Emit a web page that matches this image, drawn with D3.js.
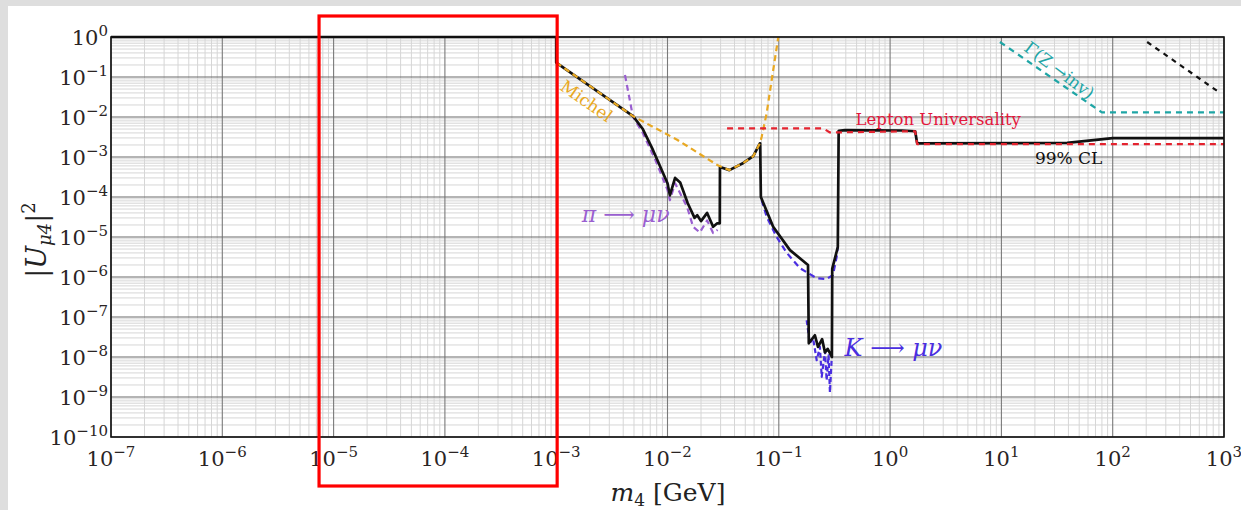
<!DOCTYPE html>
<html>
<head>
<meta charset="utf-8">
<script src="https://cdn.jsdelivr.net/npm/d3@7"></script>
<style>
  body { margin: 0; background: #dcdcdc; }
  text { font-family: "DejaVu Serif", "Liberation Serif", serif; }
</style>
</head>
<body>
<div class="container"></div>
<script>
// x = m4 [GeV], y = |U_mu4|^2
var xDecades = [-7, -6, -5, -4, -3, -2, -1, 0, 1, 2, 3];
var yDecades = [0, -1, -2, -3, -4, -5, -6, -7, -8, -9, -10];

// 99% CL combined limit (black solid)
var limitM = [1e-7, 1e-3, 1.0e-3, 4.9e-3, 6.0e-3, 7.4e-3, 1.0e-2, 1.05e-2, 1.17e-2, 1.3e-2, 1.52e-2, 1.75e-2, 1.85e-2, 2.0e-2, 2.27e-2, 2.57e-2, 2.8e-2, 2.95e-2, 2.96e-2, 3.6e-2, 4.8e-2, 5.9e-2, 6.76e-2, 6.8e-2, 6.9e-2, 8.9e-2, 0.126, 0.183, 0.186, 0.211, 0.225, 0.245, 0.26, 0.275, 0.30, 0.302, 0.339, 0.345, 0.394, 1.28, 1.68, 1.75, 39, 100, 1000];
var limitU = [1, 1, 0.23, 1.05e-2, 5e-3, 1.5e-3, 2.2e-4, 1.1e-4, 3e-4, 2.3e-4, 7e-5, 3e-5, 3.5e-5, 2.5e-5, 4e-5, 1.8e-5, 2.2e-5, 2.2e-5, 5.6e-4, 4.7e-4, 7.1e-4, 1.05e-3, 2.2e-3, 2.2e-3, 1.0e-4, 1.8e-5, 4.7e-6, 2e-6, 2.2e-8, 3.5e-8, 1.8e-8, 2.8e-8, 1.3e-8, 1.6e-8, 1e-8, 1.6e-6, 5.6e-6, 4.5e-3, 4.7e-3, 4.6e-3, 4.4e-3, 2.2e-3, 2.25e-3, 2.95e-3, 2.95e-3];

// Michel decay (orange dashed)
var michelM = [1.0e-3, 4.9e-3, 1.22e-2, 2.8e-2, 3.6e-2, 4.8e-2, 5.9e-2, 6.76e-2, 7.02e-2, 7.78e-2, 8.63e-2, 9.9e-2];
var michelU = [0.23, 1.05e-2, 2.7e-3, 6.3e-4, 4.7e-4, 7.1e-4, 1.05e-3, 2.2e-3, 3.2e-3, 1.24e-2, 8.4e-2, 1];

// pi -> mu nu (purple dashed)
var piM = [4.15e-3, 4.9e-3, 6.0e-3, 7.8e-3, 1.0e-2, 1.05e-2, 1.17e-2, 1.5e-2, 1.7e-2, 1.95e-2, 2.27e-2, 2.57e-2, 2.82e-2];
var piU = [0.112, 1e-2, 4e-3, 8.3e-4, 1.5e-4, 8.3e-5, 2.2e-4, 5.6e-5, 1.8e-5, 1.3e-5, 2.6e-5, 1.26e-5, 1.5e-5];

// K -> mu nu (blue dashed), smooth part and resonant spikes
var kM = [0.0701, 0.0778, 0.0957, 0.118, 0.155, 0.219, 0.269, 0.307, 0.331, 0.339];
var kU = [8.3e-5, 3.2e-5, 1.0e-5, 4e-6, 1.66e-6, 9.3e-7, 8.9e-7, 1.12e-6, 3.2e-6, 5.6e-6];
var kSpikeM = [0.178, 0.19, 0.203, 0.219, 0.234, 0.243, 0.26, 0.269, 0.28, 0.288, 0.298];
var kSpikeU = [8.3e-8, 2.2e-8, 3e-8, 8.3e-9, 1.8e-8, 3.2e-9, 1.4e-8, 2.6e-9, 1.1e-8, 1.3e-9, 8e-9];

// lepton universality (red dashed)
var lepM = [3.43e-2, 0.25, 0.288, 1.68, 1.75, 1000];
var lepU = [5.2e-3, 5.2e-3, 4.1e-3, 4.4e-3, 2.1e-3, 2.1e-3];

// Gamma(Z -> inv) (teal dashed) and black dashed line
var zinvM = [9.7, 80, 1000];
var zinvU = [0.75, 1.3e-2, 1.3e-2];
var topM = [204, 920];
var topU = [0.75, 0.04];

// highlighted mass window (red box)
var boxM = [7.4e-6, 1.02e-3];

function zip(a, b) { return a.map(function(d, i) { return [d, b[i]]; }); }

var W = 1241, H = 510;
var pLeft = 111, pRight = 1224, pTop = 37, pBottom = 437;

var x = d3.scaleLog().domain([1e-7, 1e3]).range([pLeft, pRight]);
var y = d3.scaleLog().domain([1e-10, 1]).range([pBottom, pTop]);

var line = d3.line()
    .x(function(d) { return x(d[0]); })
    .y(function(d) { return y(d[1]); });

var svg = d3.select(".container")
    .append("svg")
    .attr("width", W)
    .attr("height", H)
    .style("display", "block");

// paper
svg.append("rect").attr("width", W).attr("height", H).attr("fill", "#dedede");
svg.append("rect").attr("x", 8).attr("y", 6).attr("width", W - 8).attr("height", H - 6).attr("fill", "#fff");

// minor grid
var xMinor = [], yMinor = [];
xDecades.slice(0, -1).forEach(function(e) {
  for (var k = 2; k < 10; k++) xMinor.push(k * Math.pow(10, e));
});
yDecades.slice(0, -1).forEach(function(e) {
  for (var k = 2; k < 10; k++) yMinor.push(k * Math.pow(10, e - 1));
});

svg.append("g").selectAll("line").data(xMinor).enter().append("line")
    .attr("x1", x).attr("x2", x).attr("y1", pTop).attr("y2", pBottom)
    .attr("stroke", "#d6d6d6").attr("stroke-width", 1);
svg.append("g").selectAll("line").data(yMinor).enter().append("line")
    .attr("y1", y).attr("y2", y).attr("x1", pLeft).attr("x2", pRight)
    .attr("stroke", "#d6d6d6").attr("stroke-width", 1);

// major grid
svg.append("g").selectAll("line").data(xDecades).enter().append("line")
    .attr("x1", function(d) { return x(Math.pow(10, d)); })
    .attr("x2", function(d) { return x(Math.pow(10, d)); })
    .attr("y1", pTop).attr("y2", pBottom)
    .attr("stroke", "#7a7a7a").attr("stroke-width", 1.1);
svg.append("g").selectAll("line").data(yDecades).enter().append("line")
    .attr("y1", function(d) { return y(Math.pow(10, d)); })
    .attr("y2", function(d) { return y(Math.pow(10, d)); })
    .attr("x1", pLeft).attr("x2", pRight)
    .attr("stroke", "#6a6a6a").attr("stroke-width", 1.1);

// curves
function curve(data, color, width, dash) {
  svg.append("path")
      .datum(data)
      .attr("d", line)
      .attr("fill", "none")
      .attr("stroke", color)
      .attr("stroke-width", width)
      .attr("stroke-dasharray", dash || null)
      .attr("stroke-linejoin", "round");
}

curve(zip(piM, piU), "#9a5fd0", 2.2, "6,4");
curve(zip(kM, kU), "#4a2ee0", 2.2, "6,4");
curve(zip(kSpikeM, kSpikeU), "#4a2ee0", 2.2, "5,3");
curve(zip(limitM, limitU), "#111", 2.7);
curve(zip(michelM, michelU), "#e8a822", 2.2, "6,4");
curve(zip(lepM, lepU), "#e4232f", 2.2, "6,5");
curve(zip(zinvM, zinvU), "#1ea5a5", 2.2, "6,5");
curve(zip(topM, topU), "#111", 2.2, "5,5");

// frame
svg.append("rect")
    .attr("x", pLeft).attr("y", pTop)
    .attr("width", pRight - pLeft).attr("height", pBottom - pTop)
    .attr("fill", "none").attr("stroke", "#111").attr("stroke-width", 1.6);

// tick labels
function power(sel, e) {
  sel.append("tspan").text("10");
  sel.append("tspan").attr("dy", -9).attr("font-size", 15)
      .text(e < 0 ? "\u2212" + (-e) : e);
}

svg.append("g").selectAll("text").data(xDecades).enter().append("text")
    .attr("x", function(d) { return x(Math.pow(10, d)); })
    .attr("y", 466)
    .attr("text-anchor", "middle")
    .attr("font-size", 21)
    .attr("fill", "#2a2424")
    .each(function(d) { power(d3.select(this), d); });

svg.append("g").selectAll("text").data(yDecades).enter().append("text")
    .attr("x", pLeft - 3)
    .attr("y", function(d) { return y(Math.pow(10, d)) + 8; })
    .attr("text-anchor", "end")
    .attr("font-size", 21)
    .attr("fill", "#2a2424")
    .each(function(d) { power(d3.select(this), d); });

// axis titles
var xt = svg.append("text").attr("x", 668).attr("y", 501).attr("text-anchor", "middle")
    .attr("font-size", 25).attr("fill", "#222");
xt.append("tspan").attr("font-style", "italic").text("m");
xt.append("tspan").attr("font-size", 17).attr("dy", 5).text("4");
xt.append("tspan").attr("dy", -5).text(" [GeV]");

var yt = svg.append("text").attr("transform", "translate(46,240) rotate(-90)")
    .attr("text-anchor", "middle").attr("font-size", 27).attr("fill", "#222");
yt.append("tspan").text("|");
yt.append("tspan").attr("font-style", "italic").text("U");
yt.append("tspan").attr("font-size", 18).attr("dy", 5).attr("font-style", "italic").text("\u03bc4");
yt.append("tspan").attr("dy", -5).text("|");
yt.append("tspan").attr("font-size", 18).attr("dy", -11).text("2");

// curve labels
svg.append("text")
    .attr("transform", "translate(" + x(1.06e-3) + "," + y(0.05) + ") rotate(35)")
    .attr("font-size", 17).attr("fill", "#e8a822").text("Michel");

svg.append("text").attr("x", x(1.7e-3)).attr("y", 222)
    .attr("font-size", 22).attr("font-style", "italic").attr("fill", "#9a5fd0")
    .text("\u03c0 \u27f6 \u03bc\u03bd");

svg.append("text").attr("x", x(0.39)).attr("y", 356)
    .attr("font-size", 24).attr("font-style", "italic").attr("fill", "#4a2ee0")
    .text("K \u27f6 \u03bc\u03bd");

svg.append("text").attr("x", x(0.49)).attr("y", 125)
    .attr("font-size", 16.5).attr("fill", "#e4173c").text("Lepton Universality");

svg.append("text").attr("x", x(20)).attr("y", 164)
    .attr("font-size", 17).attr("fill", "#111").text("99% CL");

svg.append("text")
    .attr("transform", "translate(" + x(15.6) + "," + y(0.47) + ") rotate(37)")
    .attr("font-size", 17).attr("fill", "#1ea5a5").text("\u0393(Z \u2192inv)");

// highlight box
svg.append("rect")
    .attr("x", x(boxM[0])).attr("y", 16)
    .attr("width", x(boxM[1]) - x(boxM[0])).attr("height", 470)
    .attr("fill", "none").attr("stroke", "#ff0000").attr("stroke-width", 3.2);
</script>
</body>
</html>
